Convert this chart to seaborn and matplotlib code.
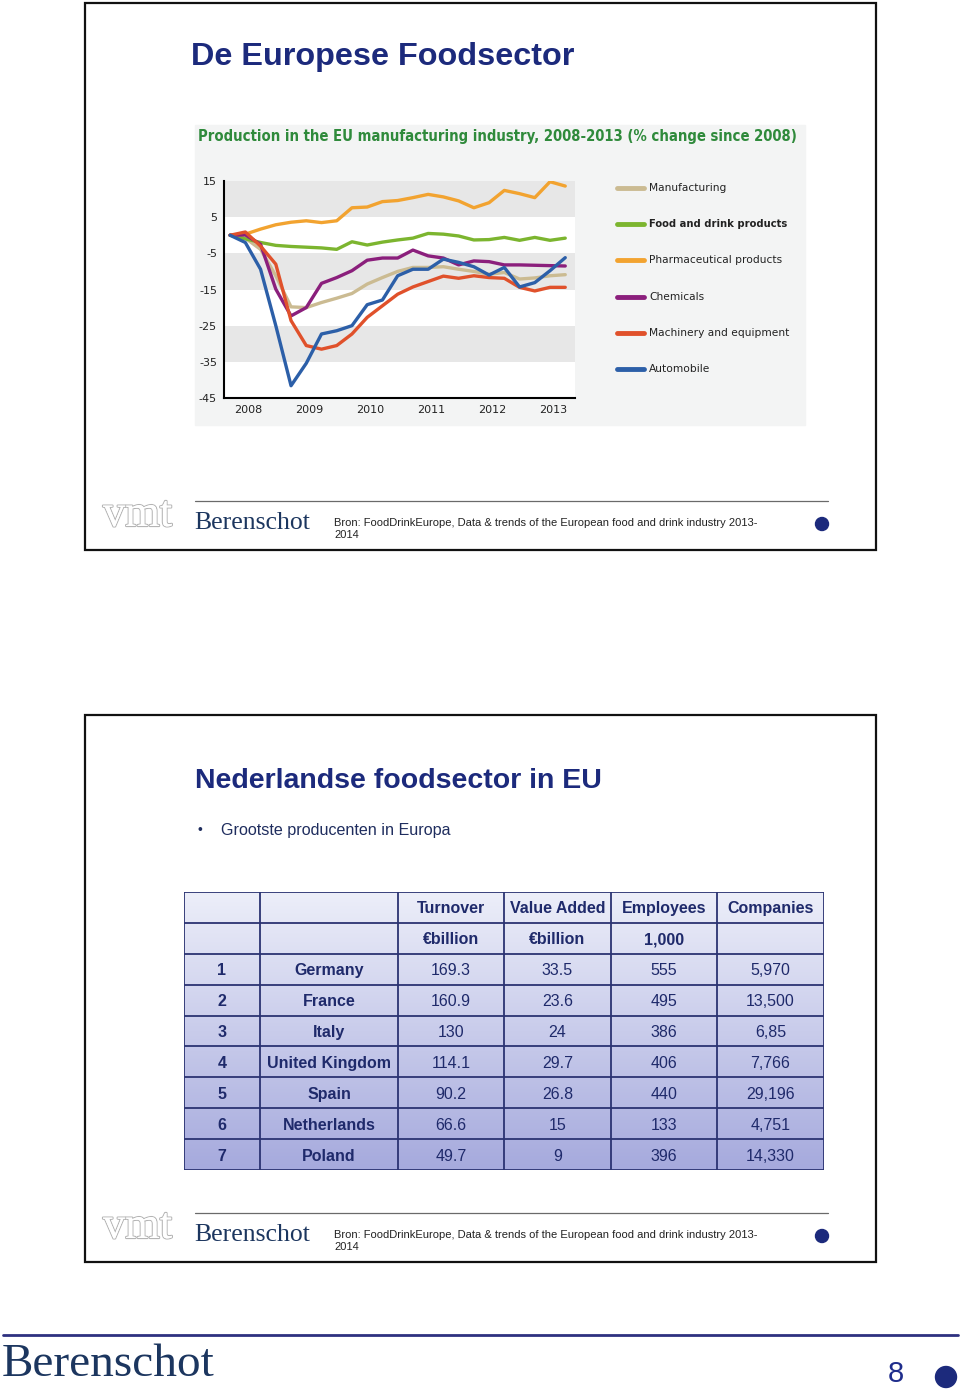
import numpy as np
import pandas as pd
import matplotlib.pyplot as plt
import seaborn as sns
from matplotlib.lines import Line2D
from matplotlib.patches import Rectangle, Ellipse
from matplotlib.colors import LinearSegmentedColormap
import matplotlib.patheffects as pe

# --- data: quarterly production index, % change since 2008 ---
quarters = 2008 + 0.25 * np.arange(23)
manufacturing = [0, -0.8, -3.9, -11.2, -19.8, -20, -18.6, -17.4, -16.1, -13.5, -11.7, -10,
                 -8.9, -8.9, -8.7, -9.4, -10, -10.8, -10.3, -12.1, -11.8, -11.2, -10.9]
food_drink = [0, -1, -2, -2.8, -3.1, -3.3, -3.5, -3.9, -1.8, -2.7, -1.9, -1.3,
              -0.8, 0.5, 0.3, -0.2, -1.3, -1.2, -0.6, -1.4, -0.6, -1.4, -0.8]
pharma = [0, 0.3, 1.7, 2.9, 3.6, 4.0, 3.5, 4.0, 7.6, 7.8, 9.3, 9.6,
          10.4, 11.3, 10.6, 9.5, 7.6, 9.0, 12.4, 11.5, 10.4, 14.8, 13.6]
chemicals = [0, 0.1, -2.5, -14.9, -22.3, -20, -13.3, -11.7, -9.8, -6.9, -6.3, -6.3,
             -4.1, -5.7, -6.3, -8.2, -7.1, -7.3, -8.2, -8.2, -8.3, -8.4, -8.5]
machinery = [0, 0.9, -3, -8, -23.6, -30.5, -31.5, -30.5, -27.3, -22.7, -19.5, -16.3,
             -14.3, -12.8, -11.3, -11.9, -11.2, -11.7, -11.9, -14.4, -15.4, -14.4, -14.4]
automobile = [0, -2, -9.4, -25, -41.6, -35.4, -27.3, -26.4, -25, -19.2, -17.9, -11.2,
              -9.4, -9.4, -6.6, -7.5, -8.7, -11, -8.9, -14.3, -13.1, -9.8, -6.2]

series_names = ['Manufacturing', 'Food and drink products', 'Pharmaceutical products',
                'Chemicals', 'Machinery and equipment', 'Automobile']
series_colors = ['#cbbb92', '#7cb52f', '#f2a330', '#8b1f7c', '#e0512b', '#2c5fa8']
year_labels = ['2008', '2009', '2010', '2011', '2012', '2013']
y_ticks = [15, 5, -5, -15, -25, -35, -45]

# --- table data ---
table_header = ['', '', 'Turnover', 'Value Added', 'Employees', 'Companies']
table_units = ['', '', '€billion', '€billion', '1,000', '']
ranks = ['1', '2', '3', '4', '5', '6', '7']
countries = ['Germany', 'France', 'Italy', 'United Kingdom', 'Spain', 'Netherlands', 'Poland']
turnover = ['169.3', '160.9', '130', '114.1', '90.2', '66.6', '49.7']
value_added = ['33.5', '23.6', '24', '29.7', '26.8', '15', '9']
employees = ['555', '495', '386', '406', '440', '133', '396']
companies = ['5,970', '13,500', '6,85', '7,766', '29,196', '4,751', '14,330']

source_text = 'Bron: FoodDrinkEurope, Data & trends of the European food and drink industry 2013-\n2014'

NAVY = '#1c2a7c'
W, H = 960, 1392

sns.set_style('white')
plt.rcParams['font.family'] = ['Liberation Sans', 'DejaVu Sans']
fig = plt.figure(figsize=(W / 100, H / 100), dpi=100)


def fx(x):
    return x / W


def fy(y):
    return 1 - y / H


def box(x0, y0, x1, y1):
    return [fx(x0), fy(y1), (x1 - x0) / W, (y1 - y0) / H]


def dot(x, y, r):
    fig.patches.append(Ellipse((fx(x), fy(y)), 2 * r / W, 2 * r / H, transform=fig.transFigure,
                               color=NAVY, zorder=5))


def slide_frame(y0, y1):
    fig.patches.append(Rectangle((fx(85), fy(y1)), 791 / W, (y1 - y0) / H, transform=fig.transFigure,
                                 fill=False, edgecolor='#111111', linewidth=1.6, zorder=5))


def slide_footer(dy):
    fig.lines.append(Line2D([fx(195), fx(828)], [fy(501 + dy)] * 2, transform=fig.transFigure,
                            color='#6a6a6a', linewidth=0.9))
    fig.text(fx(103), fy(515 + dy), 'vmt', fontsize=32, family='Liberation Serif', color='white',
             va='center', ha='left',
             path_effects=[pe.withStroke(linewidth=1.6, foreground='#b4b4b4'), pe.Normal()])
    fig.text(fx(194), fy(523 + dy), 'Berenschot', fontsize=18.5, family='Liberation Serif',
             color='#1c365f', va='center', ha='left')
    fig.text(fx(334), fy(529 + dy), source_text, fontsize=8, color='#222222',
             va='center', ha='left', linespacing=1.2)
    dot(822, 524 + dy, 6.5)


# ---------------- slide 1 ----------------
slide_frame(3, 550)
fig.text(fx(191), fy(57), 'De Europese Foodsector', fontsize=23.3, fontweight='bold',
         color=NAVY, va='center', ha='left')

fig.patches.append(Rectangle((fx(195), fy(425)), 610 / W, 300 / H, transform=fig.transFigure,
                             color='#f3f4f4', zorder=-1))
fig.text(fx(198), fy(137), 'Production in the EU manufacturing industry, 2008-2013 (% change since 2008)',
         fontsize=10.6, fontweight='bold', color='#2f8a3b', va='center', ha='left',
         family='DejaVu Sans', stretch='condensed')

df = pd.DataFrame({'quarter': quarters,
                   'Manufacturing': manufacturing,
                   'Food and drink products': food_drink,
                   'Pharmaceutical products': pharma,
                   'Chemicals': chemicals,
                   'Machinery and equipment': machinery,
                   'Automobile': automobile})
long_df = df.melt(id_vars='quarter', var_name='sector', value_name='change')

ax = fig.add_axes(box(224, 181, 575, 398))
ax.set_facecolor('white')
for lo, hi in [(5, 15), (-15, -5), (-35, -25)]:
    ax.axhspan(lo, hi, color='#e7e7e7', zorder=0, lw=0)
sns.lineplot(data=long_df, x='quarter', y='change', hue='sector', hue_order=series_names,
             palette=series_colors, linewidth=2.4, legend=False, ax=ax, zorder=3)
ax.set_xlim(2007.9, 2013.66)
ax.set_ylim(-45, 15)
ax.set_yticks(y_ticks)
ax.set_yticklabels([str(v) for v in y_ticks], fontsize=8, family='DejaVu Sans', color='#222222')
ax.set_xticks([int(y) + 0.3 for y in year_labels])
ax.set_xticklabels(year_labels, fontsize=8, family='DejaVu Sans', color='#222222')
ax.tick_params(length=0, pad=5)
ax.set_xlabel('')
ax.set_ylabel('')
for s in ['top', 'right']:
    ax.spines[s].set_visible(False)
for s in ['left', 'bottom']:
    ax.spines[s].set_color('black')
    ax.spines[s].set_linewidth(1.5)

legend_y = [188, 224, 260, 297, 333, 369]
for name, col, ly in zip(series_names, series_colors, legend_y):
    fig.lines.append(Line2D([fx(617), fx(644)], [fy(ly)] * 2, transform=fig.transFigure,
                            color=col, linewidth=3.5, solid_capstyle='round'))
    is_bold = name == 'Food and drink products'
    fig.text(fx(649), fy(ly), name, fontsize=7.2 if is_bold else 7.7, family='DejaVu Sans',
             color='#222222', fontweight='bold' if is_bold else 'normal',
             va='center', ha='left')

slide_footer(0)

# ---------------- slide 2 ----------------
slide_frame(715, 1262)
fig.text(fx(195), fy(781), 'Nederlandse foodsector in EU', fontsize=20.5, fontweight='bold',
         color=NAVY, va='center', ha='left')
fig.text(fx(198), fy(830), '•', fontsize=10, color='#1f2d5e', va='center', ha='left')
fig.text(fx(221), fy(830), 'Grootste producenten in Europa', fontsize=11.6, color='#1f2d5e',
         va='center', ha='left')

tx = fig.add_axes(box(184, 892, 824, 1170))
tx.set_xlim(0, 640)
tx.set_ylim(278, 0)
tx.axis('off')
grad = LinearSegmentedColormap.from_list('tbl', ['#eceef9', '#a6aadd'])
tx.imshow(np.linspace(0, 1, 100).reshape(-1, 1), cmap=grad, aspect='auto',
          extent=[0, 640, 278, 0], zorder=0)
col_edges = [0, 76, 214, 320, 427, 533, 640]
row_h = 278 / 9
for cx in col_edges:
    tx.axvline(cx, color='#2b3372', linewidth=1.3, zorder=2)
for r in range(10):
    tx.axhline(r * row_h, color='#2b3372', linewidth=1.3, zorder=2)

rows = [table_header, table_units] + [list(r) for r in zip(ranks, countries, turnover,
                                                             value_added, employees, companies)]
for r, row in enumerate(rows):
    for c, val in enumerate(row):
        xc = (col_edges[c] + col_edges[c + 1]) / 2
        yc = (r + 0.55) * row_h
        bold = r < 2 or c < 2
        tx.text(xc, yc, val, ha='center', va='center', fontsize=11.5, color='#1f2a6b',
                fontweight='bold' if bold else 'normal', zorder=3)

slide_footer(712)

# ---------------- page footer ----------------
fig.lines.append(Line2D([fx(3), fx(958)], [fy(1335)] * 2, transform=fig.transFigure,
                        color='#2e3180', linewidth=2))
fig.text(fx(2), fy(1365), 'Berenschot', fontsize=34, family='Liberation Serif', color='#1c365f',
         va='center', ha='left')
fig.text(fx(896), fy(1374), '8', fontsize=21, color='#1f2d8c', va='center', ha='center')
dot(946, 1377, 10.5)

fig.savefig('out.png', dpi=100)
